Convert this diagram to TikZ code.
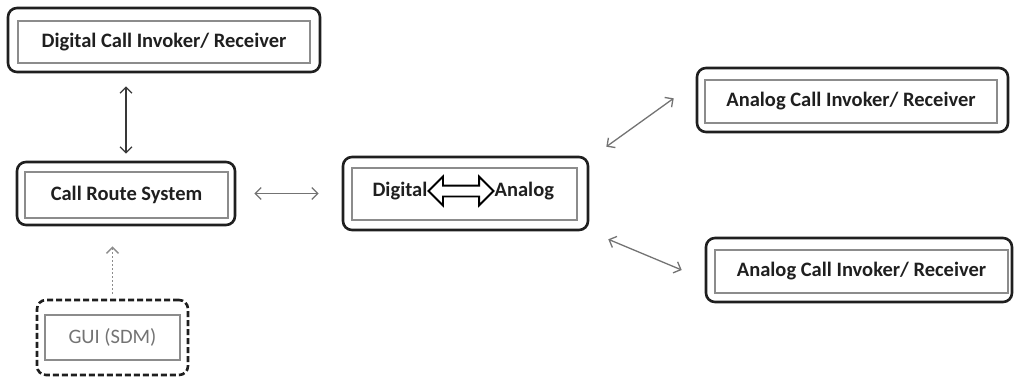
\documentclass[tikz,border=0pt]{standalone}
\usepackage{fontspec}
\setmainfont{Carlito}
\usetikzlibrary{arrows.meta,shapes.arrows,calc}
\begin{document}
\begin{tikzpicture}[x=1pt,y=-1pt,
  outerbox/.style={draw=black!88, line width=2.6pt, rounded corners=9pt, inner sep=0pt},
  dashbox/.style={outerbox, dash pattern=on 6pt off 3pt},
  innerbox/.style={draw=black!45, line width=1.3pt, inner sep=0pt, font=\bfseries\fontsize{20.5}{24}\selectfont, text=black!88},
  guitext/.style={font=\fontsize{20.5}{24}\selectfont, text=black!55},
  conn/.style={draw=black!55, line width=1.3pt, {Straight Barb[length=6pt,width=12pt]}-{Straight Barb[length=6pt,width=12pt]}},
  conndark/.style={conn, draw=black!78},
  connup/.style={draw=black!45, line width=1.5pt, dash pattern=on 2pt off 2pt, -{Straight Barb[length=6pt,width=12pt]}},
  dblarrow/.style={double arrow, draw=black, line width=1.8pt, inner sep=4.5pt, double arrow head extend=9pt, minimum height=65pt}
]
\useasboundingbox (0,0) rectangle (1015,378);

% Digital Call Invoker / Receiver
\node[outerbox, minimum width=312pt, minimum height=64pt] (dci) at (164,40) {};
\node[innerbox, minimum width=292pt, minimum height=42pt] (dcii) at (164,42) {Digital Call Invoker/ Receiver};

% Call Route System
\node[outerbox, minimum width=218pt, minimum height=63pt] (crs) at (126,193.5) {};
\node[innerbox, minimum width=203pt, minimum height=46pt] (crsi) at (126.5,195) {Call Route System};

% GUI (SDM)
\node[dashbox, minimum width=151pt, minimum height=75pt] (gui) at (112.5,337.5) {};
\node[innerbox, guitext, minimum width=135pt, minimum height=45pt] (guii) at (112.5,337.5) {GUI (SDM)};

% Digital <-> Analog
\node[outerbox, minimum width=245pt, minimum height=73pt] (da) at (465.5,193.5) {};
\node[innerbox, minimum width=225pt, minimum height=52pt] (dai) at (464.5,194) {};
\node[innerbox, draw=none, anchor=east] (dig) at (428,191) {Digital};
\node[innerbox, draw=none, anchor=west] (ana) at (494,191) {Analog};
\node[dblarrow] (dbl) at (461,191) {};

% Analog Call Invoker / Receiver (top)
\node[outerbox, minimum width=311pt, minimum height=64pt] (act) at (852.5,100) {};
\node[innerbox, minimum width=292pt, minimum height=43pt] (acti) at (851,101.5) {Analog Call Invoker/ Receiver};

% Analog Call Invoker / Receiver (bottom)
\node[outerbox, minimum width=306pt, minimum height=64pt] (acb) at (859,270) {};
\node[innerbox, minimum width=293pt, minimum height=43pt] (acbi) at (861.5,271.5) {Analog Call Invoker/ Receiver};

% connectors
\draw[conndark, shorten <=13pt, shorten >=7pt] (dci.south -| crs.north) -- (crs.north);
\draw[conn, shorten <=18pt, shorten >=23pt] (crs.east) -- (da.west |- crs.east);
\draw[connup, shorten <=5pt, shorten >=20pt] (gui.north) -- (gui.north |- crs.south);
\draw[conn] ($(da.north east)+(17,-9)$) -- ($(act.south west)+(-22,-35)$);
\draw[conn] ($(da.south east)+(19,8)$) -- ($(acb.west)+(-23,0)$);
\end{tikzpicture}
\end{document}
